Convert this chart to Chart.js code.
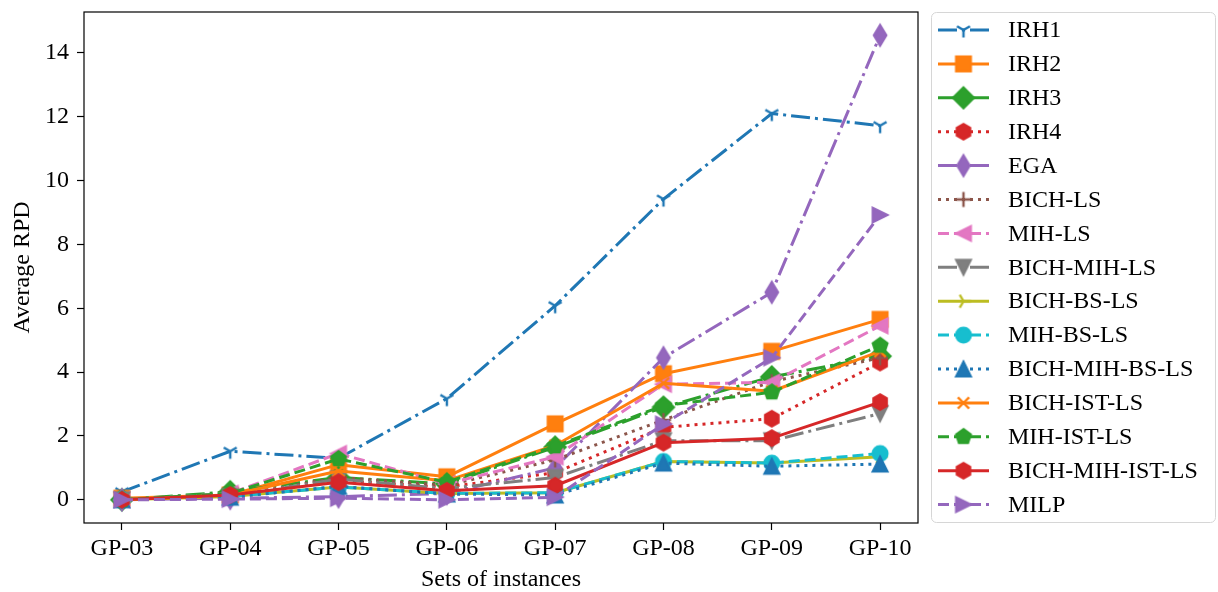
<!DOCTYPE html>
<html>
<head>
<meta charset="utf-8">
<script src="https://cdn.jsdelivr.net/npm/chart.js@4.4.1/dist/chart.umd.min.js"></script>
<style>
  html, body { margin: 0; padding: 0; background: #fff; }
  #wrap { width: 1218px; height: 592px; }
</style>
</head>
<body>
<div id="wrap"><canvas id="chart" width="1218" height="592"></canvas></div>
<script>
const categories = ['GP-03', 'GP-04', 'GP-05', 'GP-06', 'GP-07', 'GP-08', 'GP-09', 'GP-10'];
const yTicks = [0, 2, 4, 6, 8, 10, 12, 14];

const seriesNames = ['IRH1', 'IRH2', 'IRH3', 'IRH4', 'EGA', 'BICH-LS', 'MIH-LS', 'BICH-MIH-LS',
    'BICH-BS-LS', 'MIH-BS-LS', 'BICH-MIH-BS-LS', 'BICH-IST-LS', 'MIH-IST-LS', 'BICH-MIH-IST-LS', 'MILP'];

const irh1 = [0.25, 1.52, 1.30, 3.17, 6.08, 9.42, 12.10, 11.72];
const irh2 = [0.05, 0.15, 1.10, 0.72, 2.38, 3.95, 4.65, 5.65];
const irh3 = [0.00, 0.25, 0.70, 0.50, 1.65, 2.90, 3.85, 4.50];
const irh4 = [0.00, 0.15, 0.60, 0.40, 0.85, 2.27, 2.54, 4.30];
const ega = [0.00, 0.05, 0.10, 0.20, 1.00, 4.45, 6.50, 14.55];
const bichLs = [0.00, 0.10, 0.70, 0.45, 1.25, 2.50, 3.70, 4.45];
const mihLs = [0.00, 0.20, 1.45, 0.50, 1.35, 3.62, 3.68, 5.45];
const bichMihLs = [0.00, 0.10, 0.65, 0.35, 0.70, 1.85, 1.85, 2.70];
const bichBsLs = [0.00, 0.10, 0.40, 0.20, 0.22, 1.20, 1.15, 1.35];
const mihBsLs = [0.00, 0.10, 0.40, 0.20, 0.22, 1.20, 1.15, 1.45];
const bichMihBsLs = [0.00, 0.08, 0.42, 0.18, 0.15, 1.15, 1.05, 1.12];
const bichIstLs = [0.00, 0.15, 0.90, 0.60, 1.70, 3.65, 3.40, 4.65];
const mihIstLs = [0.00, 0.20, 1.28, 0.55, 1.68, 2.95, 3.37, 4.83];
const bichMihIstLs = [0.00, 0.15, 0.55, 0.28, 0.44, 1.79, 1.93, 3.06];
const milp = [0.00, 0.02, 0.05, 0.00, 0.08, 2.37, 4.45, 8.92];

const seriesValues = [irh1, irh2, irh3, irh4, ega, bichLs, mihLs, bichMihLs,
    bichBsLs, mihBsLs, bichMihBsLs, bichIstLs, mihIstLs, bichMihIstLs, milp];

// styling (matplotlib tab10 cycle)
const colors = ['#1f77b4', '#ff7f0e', '#2ca02c', '#d62728', '#9467bd', '#8c564b', '#e377c2', '#7f7f7f',
    '#bcbd22', '#17becf', '#1f77b4', '#ff7f0e', '#2ca02c', '#d62728', '#9467bd'];
const markers = ['tri_down', 'square', 'diamond', 'hexagon', 'thin_diamond', 'plus', 'triangle_left', 'triangle_down',
    'tri_right', 'circle', 'triangle_up', 'x', 'pentagon', 'hexagon', 'triangle_right'];
const lineStyles = ['dashdot', 'solid', 'dashdot', 'dotted', 'dashdot', 'dotted', 'dashed', 'dashdot',
    'solid', 'dashed', 'dotted', 'solid', 'dashed', 'solid', 'dashed'];
const dashes = { solid: [], dashed: [11, 5], dashdot: [19, 5, 3, 5], dotted: [3, 5] };

const FONT = "'Liberation Serif', 'Times New Roman', serif";
const FS = 24;
const MS = 15;

const polygon = (ctx, n, r, start) => {
    ctx.beginPath();
    for (let k = 0; k < n; k++) {
        const a = start + k * 2 * Math.PI / n;
        const px = r * Math.cos(a), py = r * Math.sin(a);
        k ? ctx.lineTo(px, py) : ctx.moveTo(px, py);
    }
    ctx.closePath();
};

const makeMarker = (kind, color) => {
    const S = 36;
    const c = document.createElement('canvas');
    c.width = S; c.height = S;
    const ctx = c.getContext('2d');
    ctx.translate(S / 2, S / 2);
    ctx.fillStyle = color;
    ctx.strokeStyle = color;
    ctx.lineWidth = 2;
    ctx.lineJoin = 'miter';
    const h = MS / 2;
    const arms = (pts) => {
        ctx.lineWidth = 2.4;
        ctx.beginPath();
        pts.forEach(p => { ctx.moveTo(0, 0); ctx.lineTo(p[0] * h, p[1] * h); });
        ctx.stroke();
    };
    const tri = (rot) => {
        ctx.save();
        ctx.rotate(rot);
        ctx.beginPath();
        ctx.moveTo(0, -h); ctx.lineTo(-h, h); ctx.lineTo(h, h);
        ctx.closePath();
        ctx.fill(); ctx.stroke();
        ctx.restore();
    };
    switch (kind) {
        case 'tri_down': arms([[0, 1], [-0.866, -0.5], [0.866, -0.5]]); break;
        case 'tri_right': arms([[1, 0], [-0.5, -0.866], [-0.5, 0.866]]); break;
        case 'plus': arms([[1, 0], [-1, 0], [0, 1], [0, -1]]); break;
        case 'x': arms([[0.75, 0.75], [-0.75, -0.75], [0.75, -0.75], [-0.75, 0.75]]); break;
        case 'square':
            ctx.beginPath(); ctx.rect(-h, -h, 2 * h, 2 * h); ctx.fill(); ctx.stroke(); break;
        case 'diamond': {
            const d = h * 1.414;
            ctx.beginPath(); ctx.moveTo(0, -d); ctx.lineTo(d, 0); ctx.lineTo(0, d); ctx.lineTo(-d, 0);
            ctx.closePath(); ctx.fill(); ctx.stroke(); break;
        }
        case 'thin_diamond': {
            const d = h * 1.414;
            ctx.beginPath(); ctx.moveTo(0, -d); ctx.lineTo(0.6 * d, 0); ctx.lineTo(0, d); ctx.lineTo(-0.6 * d, 0);
            ctx.closePath(); ctx.fill(); ctx.stroke(); break;
        }
        case 'hexagon': polygon(ctx, 6, h * 1.05, -Math.PI / 2); ctx.fill(); ctx.stroke(); break;
        case 'pentagon': polygon(ctx, 5, h * 1.05, -Math.PI / 2); ctx.fill(); ctx.stroke(); break;
        case 'circle':
            ctx.beginPath(); ctx.arc(0, 0, h, 0, 2 * Math.PI); ctx.fill(); ctx.stroke(); break;
        case 'triangle_up': tri(0); break;
        case 'triangle_down': tri(Math.PI); break;
        case 'triangle_left': tri(-Math.PI / 2); break;
        case 'triangle_right': tri(Math.PI / 2); break;
    }
    return c;
};

const markerImages = seriesNames.map((_, i) => makeMarker(markers[i], colors[i]));

const datasets = seriesNames.map((name, i) => ({
    label: name,
    data: seriesValues[i].map((v, j) => ({ x: j, y: v })),
    borderColor: colors[i],
    backgroundColor: colors[i],
    borderWidth: 3,
    borderDash: dashes[lineStyles[i]],
    borderJoinStyle: 'round',
    pointStyle: markerImages[i],
    pointRadius: 8,
    tension: 0,
    fill: false,
    order: seriesNames.length - i
}));

const frameAndLegend = {
    id: 'frameAndLegend',
    afterDatasetsDraw(chart) {
        const { ctx, chartArea: a } = chart;
        ctx.save();
        ctx.strokeStyle = '#000';
        ctx.lineWidth = 1.2;
        ctx.strokeRect(a.left, a.top, a.right - a.left, a.bottom - a.top);
        ctx.restore();
    },
    afterDraw(chart) {
        const ctx = chart.ctx;
        const bx = 931.5, by = 12.5, bw = 284, bh = 510, r = 5;
        ctx.save();
        ctx.beginPath();
        ctx.roundRect(bx, by, bw, bh, r);
        ctx.fillStyle = '#fff';
        ctx.fill();
        ctx.strokeStyle = '#d6d6d6';
        ctx.lineWidth = 1;
        ctx.stroke();
        ctx.font = FS + 'px ' + FONT;
        ctx.textBaseline = 'middle';
        ctx.textAlign = 'left';
        seriesNames.forEach((name, i) => {
            const y = 30 + i * 33.9;
            ctx.strokeStyle = colors[i];
            ctx.lineWidth = 3;
            ctx.setLineDash(dashes[lineStyles[i]]);
            ctx.beginPath();
            ctx.moveTo(938, y);
            ctx.lineTo(989, y);
            ctx.stroke();
            ctx.setLineDash([]);
            const img = markerImages[i];
            ctx.drawImage(img, 963.5 - img.width / 2, y - img.height / 2);
            ctx.fillStyle = '#000';
            ctx.fillText(name, 1008, y + 1);
        });
        ctx.restore();
    }
};

new Chart(document.getElementById('chart'), {
    type: 'line',
    data: { datasets },
    options: {
        responsive: false,
        animation: false,
        events: [],
        layout: { padding: { left: 0, right: 300, top: 0, bottom: 0 } },
        plugins: {
            legend: { display: false },
            tooltip: { enabled: false }
        },
        scales: {
            x: {
                type: 'linear',
                min: -0.35,
                max: 7.35,
                afterBuildTicks: (scale) => { scale.ticks = categories.map((_, i) => ({ value: i })); },
                afterFit: (scale) => { scale.height = 69; },
                border: { display: false },
                grid: { display: true, drawOnChartArea: false, drawTicks: true, tickLength: 7, tickWidth: 1.2, tickColor: '#000' },
                ticks: {
                    color: '#000',
                    font: { family: FONT, size: FS },
                    padding: 4,
                    maxRotation: 0,
                    autoSkip: false,
                    callback: (v) => categories[v]
                },
                title: {
                    display: true,
                    text: 'Sets of instances',
                    color: '#000',
                    font: { family: FONT, size: FS },
                    padding: { top: 0, bottom: -2 }
                }
            },
            y: {
                min: -0.727,
                max: 15.28,
                afterBuildTicks: (scale) => { scale.ticks = yTicks.map(v => ({ value: v })); },
                afterFit: (scale) => { scale.width = 84; scale.paddingTop = 12; },
                border: { display: false },
                grid: { display: true, drawOnChartArea: false, drawTicks: true, tickLength: 7, tickWidth: 1.2, tickColor: '#000' },
                ticks: {
                    color: '#000',
                    font: { family: FONT, size: FS },
                    padding: 8
                },
                title: {
                    display: true,
                    text: 'Average RPD',
                    color: '#000',
                    font: { family: FONT, size: FS },
                    padding: { top: 8, bottom: 0 }
                }
            }
        }
    },
    plugins: [frameAndLegend]
});
</script>
</body>
</html>
